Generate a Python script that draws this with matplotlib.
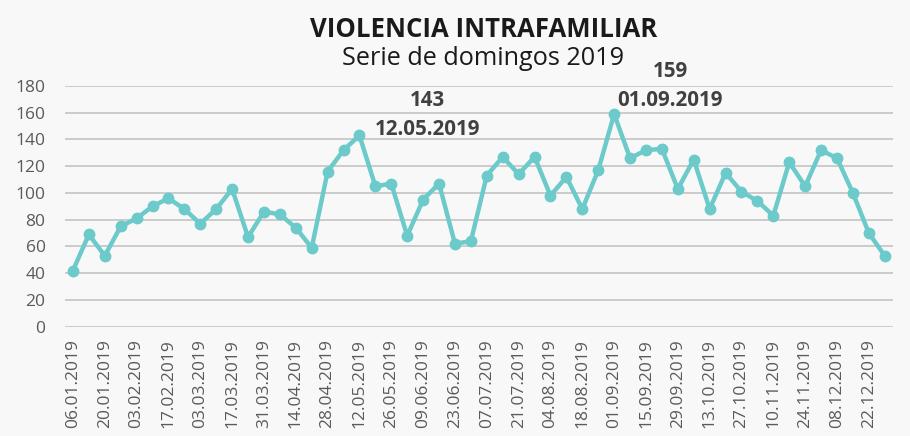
import matplotlib
matplotlib.use("Agg")
import matplotlib.pyplot as plt
import numpy as np

# Sundays of 2019 (52 weeks)
dates = ["06.01", "13.01", "20.01", "27.01", "03.02", "10.02", "17.02", "24.02",
         "03.03", "10.03", "17.03", "24.03", "31.03", "07.04", "14.04", "21.04",
         "28.04", "05.05", "12.05", "19.05", "26.05", "02.06", "09.06", "16.06",
         "23.06", "30.06", "07.07", "14.07", "21.07", "28.07", "04.08", "11.08",
         "18.08", "25.08", "01.09", "08.09", "15.09", "22.09", "29.09", "06.10",
         "13.10", "20.10", "27.10", "03.11", "10.11", "17.11", "24.11", "01.12",
         "08.12", "15.12", "22.12", "29.12"]
dates = [d + ".2019" for d in dates]

cases = [42, 69, 53, 75, 81, 90, 96, 88, 77, 88,
         103, 67, 86, 84, 74, 59, 116, 132, 143, 105,
         107, 68, 95, 107, 62, 64, 113, 127, 114, 127,
         98, 112, 88, 117, 159, 126, 132, 133, 103, 125,
         88, 115, 101, 94, 83, 123, 105, 132, 126, 100,
         70, 53]

# highlighted peaks: (index, number offset, date offset) in pixels
peaks = [(18, (68, 29), (68, 0)), (34, (56, 37), (56, 8))]

plt.rcParams['font.family'] = ['Open Sans', 'DejaVu Sans']

bg = '#f8f8f8'
teal = '#6ccaca'

fig = plt.figure(figsize=(9.10, 4.36), dpi=100, facecolor=bg)
ax = fig.add_axes([0.0714, 0.2507, 0.9096, 0.5521], facecolor=bg)

x = np.arange(len(cases))
ax.plot(x, cases, color=teal, lw=3.2, marker='o', ms=7.5, zorder=3)

ax.set_xlim(-0.5, len(cases) - 0.5)
ax.set_ylim(0, 180)
ax.set_yticks(np.arange(0, 181, 20))
ax.yaxis.grid(True, color='#c8c8c8', lw=1.3)
ax.set_axisbelow(True)
for s in ax.spines.values():
    s.set_visible(False)

ax.set_xticks(x[::2])
ax.set_xticklabels(dates[::2], rotation=90, va='top', ha='center')
ax.tick_params(axis='both', length=0, labelsize=12.5, colors='#5a5a5a')
ax.tick_params(axis='y', pad=14)
ax.tick_params(axis='x', pad=9)

for i, off_n, off_d in peaks:
    ax.annotate(str(cases[i]), (x[i], cases[i]), xytext=off_n, textcoords='offset pixels',
                ha='center', va='baseline', fontsize=14.8, fontweight='bold',
                color='#404040', annotation_clip=False)
    ax.annotate(dates[i], (x[i], cases[i]), xytext=off_d, textcoords='offset pixels',
                ha='center', va='baseline', fontsize=14.8, fontweight='bold',
                color='#404040', annotation_clip=False)

fig.text(0.531, 1 - 37 / 436, 'VIOLENCIA INTRAFAMILIAR', ha='center', va='baseline',
         fontsize=18.5, fontweight='bold', color='#1a1a1a')
fig.text(0.531, 1 - 65 / 436, 'Serie de domingos 2019', ha='center', va='baseline',
         fontsize=18.2, color='#1a1a1a')

fig.savefig('out.png', dpi=100, facecolor=bg)
